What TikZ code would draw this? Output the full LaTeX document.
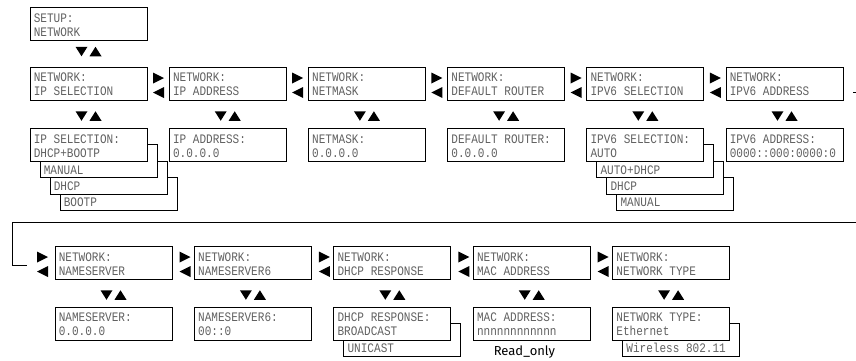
\documentclass[tikz,border=0pt]{standalone}
\usepackage{fontspec}
\newfontfamily\lcdfont[FakeStretch=0.85]{Liberation Mono}
\newfontfamily\notefont{Fira Sans}
\definecolor{lcdgray}{gray}{0.38}
\tikzset{
  lcdbox/.style={draw=black, line width=0.8pt, fill=white, minimum width=117pt, minimum height=33pt, inner sep=0},
  lcdtext/.style={anchor=base west, inner sep=0, font=\lcdfont\fontsize{13pt}{14pt}\selectfont, text=lcdgray},
  wire/.style={draw=black, line width=0.8pt},
  tri/.style={fill=black},
}
% two-line display box
\newcommand\LCD[5]{%
  \node[lcdbox] (#1) at (#2,#3) {};
  \node[lcdtext] (#1-a) at ([xshift=4pt,yshift=-15pt]#1.north west) {#4};
  \node[lcdtext] (#1-b) at ([xshift=4pt,yshift=-29pt]#1.north west) {#5};
}
% stacked option box (one visible line)
\newcommand\OPT[4]{%
  \node[lcdbox] (#1) at (#2,#3) {};
  \node[lcdtext] (#1-a) at ([xshift=4pt,yshift=4.2pt]#1.south west) {#4};
}
% right/left pointing pair left of a box west x, top y
\newcommand\LRpair[2]{%
  \fill[tri] (#1-5.5,#2-11+5.5) -- (#1+5.5,#2-11) -- (#1-5.5,#2-11-5.5) -- cycle;
  \fill[tri] (#1+5.5,#2-25.5+5.5) -- (#1-5.5,#2-25.5) -- (#1+5.5,#2-25.5-5.5) -- cycle;
}
% down/up pair centred at x,y
\newcommand\DUpair[2]{%
  \fill[tri] (#1-13,#2+4.75) -- (#1-1,#2+4.75) -- (#1-7,#2-4.75) -- cycle;
  \fill[tri] (#1+1,#2-4.75) -- (#1+13,#2-4.75) -- (#1+7,#2+4.75) -- cycle;
}
\begin{document}
\begin{tikzpicture}[x=1pt,y=1pt]
\useasboundingbox (0,0) rectangle (856,360);

% ---- top
\LCD{setup}{88.5}{336}{SETUP:}{NETWORK}
\DUpair{88.5}{308.5}

% ---- row 1
\LCD{ipsel}{88.5}{276.5}{NETWORK:}{IP SELECTION}
\LCD{ipaddr}{227.7}{276.5}{NETWORK:}{IP ADDRESS}
\LCD{netmask}{366.9}{276.5}{NETWORK:}{NETMASK}
\LCD{router}{506.1}{276.5}{NETWORK:}{DEFAULT ROUTER}
\LCD{vsel}{645.3}{276.5}{NETWORK:}{IPV6 SELECTION}
\LCD{vaddr}{784.5}{276.5}{NETWORK:}{IPV6 ADDRESS}
\LRpair{158.5}{293}
\LRpair{297.7}{293}
\LRpair{436.9}{293}
\LRpair{576.1}{293}
\LRpair{715.3}{293}
\foreach \x in {88.5,227.7,366.9,506.1,645.3,784.5} {\DUpair{\x}{244}}

% ---- row 2
\OPT{ipsel-o3}{118.5}{166.1}{BOOTP}
\OPT{ipsel-o2}{108.5}{182.4}{DHCP}
\OPT{ipsel-o1}{98.5}{198.7}{MANUAL}
\LCD{ipselv}{88.5}{215}{IP SELECTION:}{DHCP+BOOTP}
\LCD{ipaddrv}{227.7}{215}{IP ADDRESS:}{0.0.0.0}
\LCD{netmaskv}{366.9}{215}{NETMASK:}{0.0.0.0}
\LCD{routerv}{506.1}{215}{DEFAULT ROUTER:}{0.0.0.0}
\OPT{vsel-o3}{675.3}{166.1}{MANUAL}
\OPT{vsel-o2}{665.3}{182.4}{DHCP}
\OPT{vsel-o1}{655.3}{198.7}{AUTO+DHCP}
\LCD{vselv}{645.3}{215}{IPV6 SELECTION:}{AUTO}
\LCD{vaddrv}{784.5}{215}{IPV6 ADDRESS:}{0000::000:0000:0}

% ---- wrap connector
\coordinate (wA) at (853,268);
\coordinate (wB) at (856,268);
\coordinate (wC) at (856,137.3);
\coordinate (wD) at (12,137.3);
\coordinate (wE) at (12,95);
\coordinate (wF) at (27,95);
\draw[wire] (wA) -- (wB);
\draw[wire] (wC) -- (wD) -- (wE) -- (wF);

% ---- row 3
\LCD{ns}{113.5}{97}{NETWORK:}{NAMESERVER}
\LCD{nssix}{252.9}{97}{NETWORK:}{NAMESERVER6}
\LCD{dhcp}{392.3}{97}{NETWORK:}{DHCP RESPONSE}
\LCD{mac}{531.7}{97}{NETWORK:}{MAC ADDRESS}
\LCD{ntype}{671.1}{97}{NETWORK:}{NETWORK TYPE}
\LRpair{42.5}{114}
\LRpair{185}{114}
\LRpair{324.4}{114}
\LRpair{463.8}{114}
\LRpair{603.2}{114}
\foreach \x in {113.5,252.9,392.3,531.7,671.1} {\DUpair{\x}{65}}

% ---- row 4
\LCD{nsv}{113.5}{36.5}{NAMESERVER:}{0.0.0.0}
\LCD{nssixv}{252.9}{36.5}{NAMESERVER6:}{00::0}
\OPT{dhcp-o1}{402.3}{20.2}{UNICAST}
\LCD{dhcpv}{392.3}{36.5}{DHCP RESPONSE:}{BROADCAST}
\LCD{macv}{531.7}{36.5}{MAC ADDRESS:}{nnnnnnnnnnnn}
\OPT{ntype-o1}{681.1}{20.2}{Wireless 802.11}
\LCD{ntypev}{671.1}{36.5}{NETWORK TYPE:}{Ethernet}
\node[anchor=base, inner sep=0, font=\notefont\fontsize{13pt}{14pt}\selectfont] (ro) at (524.4,5) {Read\_only};
\end{tikzpicture}
\end{document}
